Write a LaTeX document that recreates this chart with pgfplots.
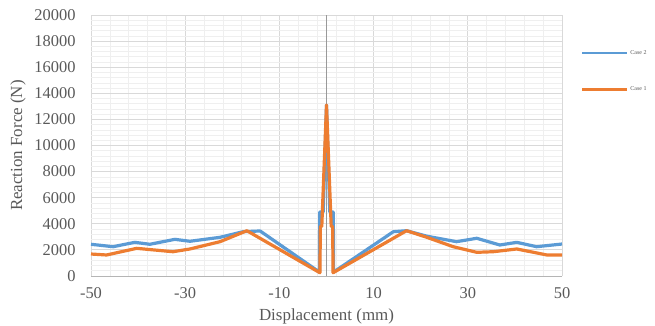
\documentclass[border=0pt]{standalone}
\usepackage{fontspec}
\setmainfont{Liberation Serif}
\usepackage{pgfplots}
\pgfplotsset{compat=1.18}
\definecolor{caseA}{HTML}{5B9BD5}
\definecolor{caseB}{HTML}{ED7D31}
\definecolor{tickc}{HTML}{595959}
\definecolor{majg}{HTML}{D9D9D9}
\definecolor{ming}{HTML}{EFEFEF}
\begin{document}
\begin{tikzpicture}
\path[use as bounding box] (0,0) rectangle (655bp,326bp);
\begin{axis}[
  at={(91bp,50bp)}, anchor=south west,
  scale only axis, width=471bp, height=261bp,
  xmin=-50, xmax=50, ymin=0, ymax=20000,
  xtick={-50,-30,...,50}, ytick={0,2000,...,20000},
  minor x tick num=4, minor y tick num=4,
  grid=both,
  major grid style={draw=majg, line width=0.8bp},
  minor grid style={draw=ming, line width=0.6bp},
  major tick length=0pt, minor tick length=0pt,
  axis line style={draw=none},
  /pgf/number format/assume math mode=true,
  scaled y ticks=false,
  yticklabel={\pgfmathprintnumber[fixed,1000 sep={}]{\tick}},
  ticklabel style={font=\fontsize{16.5}{16.5}\selectfont, text=tickc},
  yticklabel style={xshift=-12bp},
  xticklabel style={yshift=-8bp},
  xlabel={Displacement (mm)}, ylabel={Reaction Force (N)},
  label style={font=\fontsize{17}{17}\selectfont, text=tickc},
  xlabel style={at={(0.5,0)}, anchor=center, yshift=-40bp},
  ylabel style={at={(0,0.5)}, anchor=center, yshift=73bp},
  legend style={at={(1.0,0.873)}, anchor=north west, xshift=19bp, draw=none, fill=none,
    font=\fontsize{6}{6}\selectfont, text=tickc, row sep=27bp,
    inner sep=0pt, outer sep=0pt},
  legend cell align=left,
  legend image code/.code={\draw[#1, line width=2.5bp] (0bp,0bp) -- (45bp,0bp);},
  clip=false,
]
\draw[draw=majg!60!gray, line width=0.8bp] (axis cs:-50,0) -- (axis cs:50,0);
\draw[draw=gray!80, line width=0.8bp] (axis cs:0,0) -- (axis cs:0,20000);
\addplot[caseA, line width=3.2bp, line join=round] coordinates {
(-50,2430) (-45.3,2245) (-40.7,2580) (-37.5,2430) (-32.2,2810) (-29,2660)
(-22.6,2965) (-17.7,3395) (-14.1,3450) (-1.5,300) (-1.45,4900) (-0.7,4900)
(0,13100) (0.7,4900) (1.45,4900) (1.5,300) (14.2,3395) (17,3470)
(21.3,3050) (27.6,2630) (31.9,2890) (36.8,2375) (40.4,2580) (44.6,2245) (50,2450)
};
\addlegendentry{Case 2}
\addplot[caseB, line width=3.2bp, line join=round] coordinates {
(-50,1685) (-46.7,1610) (-40.3,2120) (-32.6,1860) (-29,2070) (-22.6,2630)
(-16.9,3470) (-1.4,250) (-1.3,3800) (-1.0,3800) (0,13100) (1.0,3800)
(1.3,3800) (1.4,250) (17,3470) (21.3,2965) (26.9,2245) (31.9,1815)
(35.4,1860) (40.4,2070) (46.8,1610) (50,1610)
};
\addlegendentry{Case 1}
\end{axis}
\end{tikzpicture}
\end{document}
